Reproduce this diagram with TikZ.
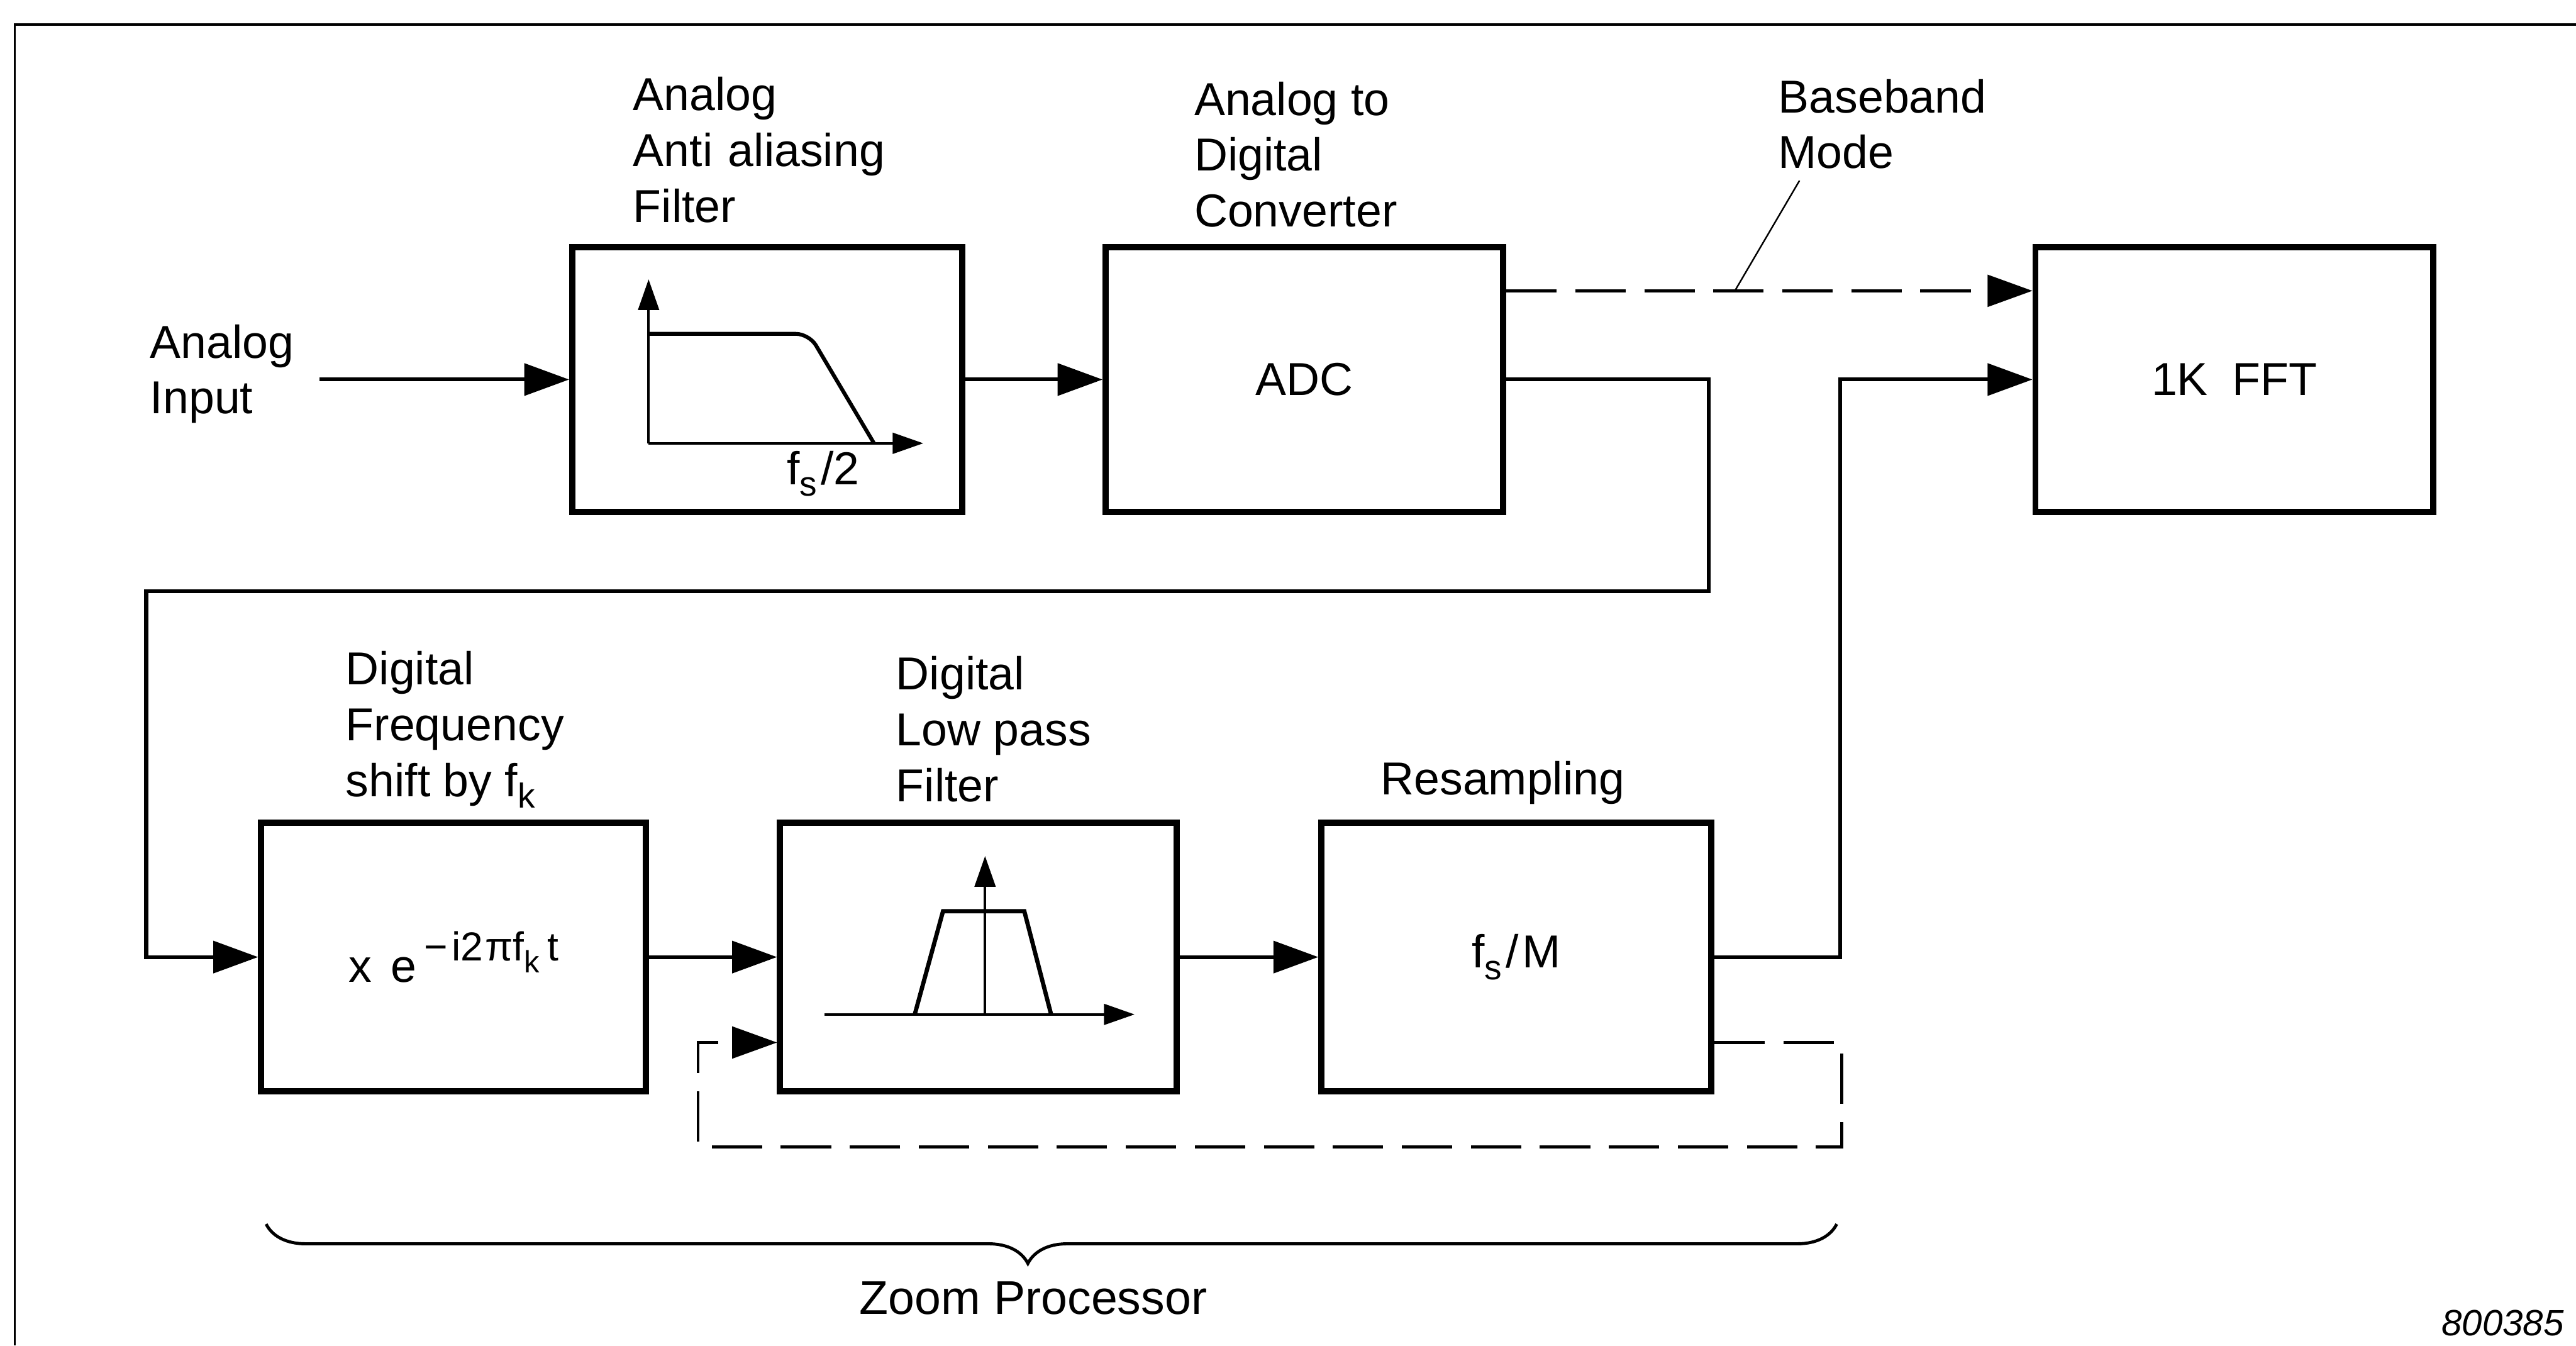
\documentclass[tikz,border=0pt]{standalone}
\usepackage{fontspec}
\setmainfont{Liberation Sans}
\usepackage{tikz}
\usetikzlibrary{positioning,arrows.meta,decorations.pathreplacing}
\tikzset{
  blk/.style ={rectangle, draw=black, line width=1.6pt, inner sep=0pt,
               minimum height=24.2mm, align=center},
  lbl/.style ={align=left, inner sep=0pt, anchor=north west},
  arr/.style ={-{Triangle[length=4.1mm,width=2.9mm]}, line width=1pt},
  dsh/.style ={dash pattern=on 4.6mm off 1.7mm, line width=0.7pt},
  ax/.style  ={-{Triangle[length=2.8mm,width=1.9mm]}, line width=0.6pt},
}
\newcommand{\lsub}[1]{\raisebox{-3pt}{\fontsize{9}{9}\selectfont #1}}
\newcommand{\lsup}[1]{\raisebox{5.5pt}{\fontsize{10.5}{10.5}\selectfont #1}}

\begin{document}
\begin{tikzpicture}[x=0.015cm, y=-0.015cm, font=\fontsize{12}{14.5}\selectfont]
  \useasboundingbox (0,0) rectangle (1568,819);
  % page frame
  \draw[line width=0.6pt] (9,819) -- (9,15) -- (1568,15);

  % top row
  \node[blk, minimum width=35.6mm] (filt) at (467,231) {};
  \node[blk, minimum width=36.3mm] (adc)  at (794,231) {ADC};
  \node[blk, minimum width=36.3mm] (fft)  at (1360,231) {1K\hspace{3pt} FFT};
  % zoom processor row
  \node[blk, minimum width=35.1mm, minimum height=24.5mm] (shift) at (276,582.5)
    {x\hspace{5pt}e\hspace{2pt}\lsup{−\hspace{1pt}i2\hspace{0.5pt}πf\raisebox{-3pt}{\fontsize{8}{8}\selectfont k}\hspace{2pt}t}};
  \node[blk, minimum width=36.2mm, minimum height=24.5mm] (lpf) at (595.5,582.5) {};
  \node[blk, minimum width=35.6mm, minimum height=24.5mm] (resamp) at (923,582.5) {f\lsub{s}\hspace{1pt}/\hspace{1pt}M};

  % labels
  \node[lbl] (inlbl)    at (91,197)     {Analog\\Input};
  \node[lbl] (filtlbl)  at (385,46.5)   {Analog\\Anti\kern4pt aliasing\\Filter};
  \node[lbl] (adclbl)   at (726.5,49.3) {Analog to\\Digital\\Converter};
  \node[lbl] (bbl)      at (1082,47.7)  {Baseband\\Mode};
  \node[lbl] (shiftlbl) at (210,396)    {Digital\\Frequency\\shift by f\lsub{k}};
  \node[lbl] (lpflbl)   at (545,399)    {Digital\\Low pass\\Filter};
  \node[anchor=base west, inner sep=0pt] (reslbl) at (840,483.5) {Resampling};

  % low pass sketch
  \draw[ax] (394.8,269.8) -- (394.8,170);
  \draw[ax] (394.8,269.8) -- (562,269.8);
  \draw[line width=1pt, rounded corners=1.2mm] (394.8,203.2) -- (492.5,203.2) -- (532,269.8);
  \node[anchor=base west, inner sep=0pt] (fsh) at (478.5,295) {f\lsub{s}\hspace{1pt}/2};

  % band pass sketch
  \draw[ax] (502,617.4) -- (690.6,617.4);
  \draw[ax] (599.6,617.4) -- (599.6,521);
  \draw[line width=1.1pt] (556.8,617.4) -- (574,554.6) -- (623.5,554.6) -- (639.8,617.4);

  % connectors
  \coordinate (inp) at (194.5,231);
  \coordinate (dn1) at (1040,360);
  \coordinate (dn2) at (89,360);
  \coordinate (up1) at (1120,582.5);
  \coordinate (fbR) at (1121,698);
  \coordinate (fbL) at (425,698);
  \coordinate (bbpt) at (1056,177);

  \draw[arr] (inp) -- (filt);
  \draw[arr] (filt) -- (adc);
  \draw[arr, dsh] ([yshift=8.1mm]adc.east) -- ([yshift=8.1mm]fft.west);
  \draw[line width=0.4pt] ([xshift=2mm,yshift=-1mm]bbl.south west) -- (bbpt);
  \draw[arr] (adc.east) -| (dn1) -- (dn2) |- (shift.west);
  \draw[arr] (shift) -- (lpf);
  \draw[arr] (lpf) -- (resamp);
  \draw[arr] (resamp.east) -- (up1) |- (fft.west);
  \draw[arr, dsh] ([yshift=-7.8mm]resamp.east) -| (fbR) -- (fbL) |- ([yshift=-7.8mm]lpf.west);

  % brace
  \coordinate (brL) at (162,745);
  \coordinate (brR) at (1118,745);
  \draw[decorate, decoration={brace, mirror, amplitude=3.6mm, aspect=0.485}, line width=0.8pt]
    (brL) -- (brR);
  \node[anchor=base, inner sep=0pt, font=\fontsize{12.3}{14}\selectfont] (zp) at (629,800) {Zoom Processor};
  \node[anchor=base east, inner sep=0pt, font=\fontsize{9.5}{11}\selectfont\itshape] (figno) at (1561,813) {800385};
\end{tikzpicture}
\end{document}
